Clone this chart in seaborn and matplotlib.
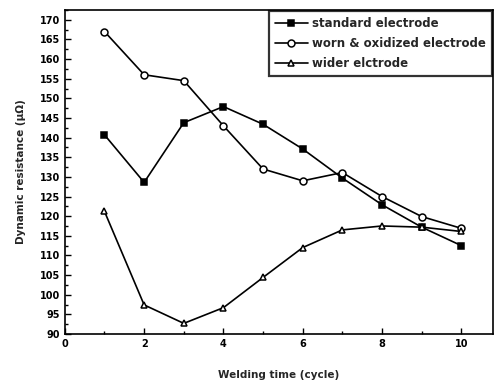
import numpy as np
import pandas as pd
import matplotlib
matplotlib.use('Agg')
import matplotlib.pyplot as plt
import seaborn as sns
from matplotlib.ticker import MultipleLocator

cycles = [1, 2, 3, 4, 5, 6, 7, 8, 9, 10]
standard = [140.7, 128.6, 143.8, 147.9, 143.4, 137.1, 129.7, 122.9, 117.2, 112.5]
worn = [167.0, 156.0, 154.5, 143.0, 132.0, 129.0, 131.1, 125.0, 119.9, 116.9]
wider = [121.2, 97.4, 92.7, 96.7, 104.4, 112.0, 116.5, 117.5, 117.2, 116.1]
series_names = ['standard electrode', 'worn & oxidized electrode', 'wider elctrode']

df = pd.DataFrame({
    'cycle': cycles * 3,
    'resistance': standard + worn + wider,
    'series': np.repeat(series_names, len(cycles)),
})

sns.set_style('ticks')
plt.rcParams['font.family'] = ['DejaVu Sans']
plt.rcParams['font.weight'] = 'bold'

fig = plt.figure(figsize=(4.95, 3.83), dpi=100)
ax = fig.add_axes([0.131, 0.128, 0.865, 0.846])

styles = {
    'standard electrode': dict(marker='s', markerfacecolor='black'),
    'worn & oxidized electrode': dict(marker='o', markerfacecolor='white'),
    'wider elctrode': dict(marker='^', markerfacecolor='white'),
}
for name in series_names:
    sub = df[df['series'] == name]
    sns.lineplot(data=sub, x='cycle', y='resistance', ax=ax, color='black',
                 linewidth=1.2, markersize=5, markeredgecolor='black',
                 markeredgewidth=1.1, label=name, **styles[name])

ax.set_xlim(0, 10.8)
ax.set_ylim(90, 172.5)
ax.xaxis.set_major_locator(MultipleLocator(2))
ax.xaxis.set_minor_locator(MultipleLocator(1))
ax.yaxis.set_major_locator(MultipleLocator(5))
ax.yaxis.set_minor_locator(MultipleLocator(2.5))
ax.tick_params(which='both', direction='in', colors='black', labelsize=7, width=1)
ax.tick_params(which='major', length=4)
ax.tick_params(which='minor', length=2)
for lbl in ax.get_xticklabels() + ax.get_yticklabels():
    lbl.set_fontweight('bold')
for sp in ax.spines.values():
    sp.set_color('black')
    sp.set_linewidth(1.2)

ax.set_xlabel('Welding time (cycle)', fontsize=7.5, fontweight='bold', labelpad=15)
ax.set_ylabel('Dynamic resistance (\u03bc\u03a9)', fontsize=7.5, fontweight='bold', labelpad=10)

leg = ax.legend(loc='upper right', frameon=True, fancybox=False, fontsize=8.5,
                borderaxespad=0.0, handlelength=2.8, handletextpad=0.4,
                borderpad=0.5, labelspacing=0.6, bbox_to_anchor=(0.998, 0.997))
leg.get_frame().set_edgecolor('black')
leg.get_frame().set_linewidth(1.6)
for t in leg.get_texts():
    t.set_fontweight('bold')

fig.savefig('out.png', dpi=100)
